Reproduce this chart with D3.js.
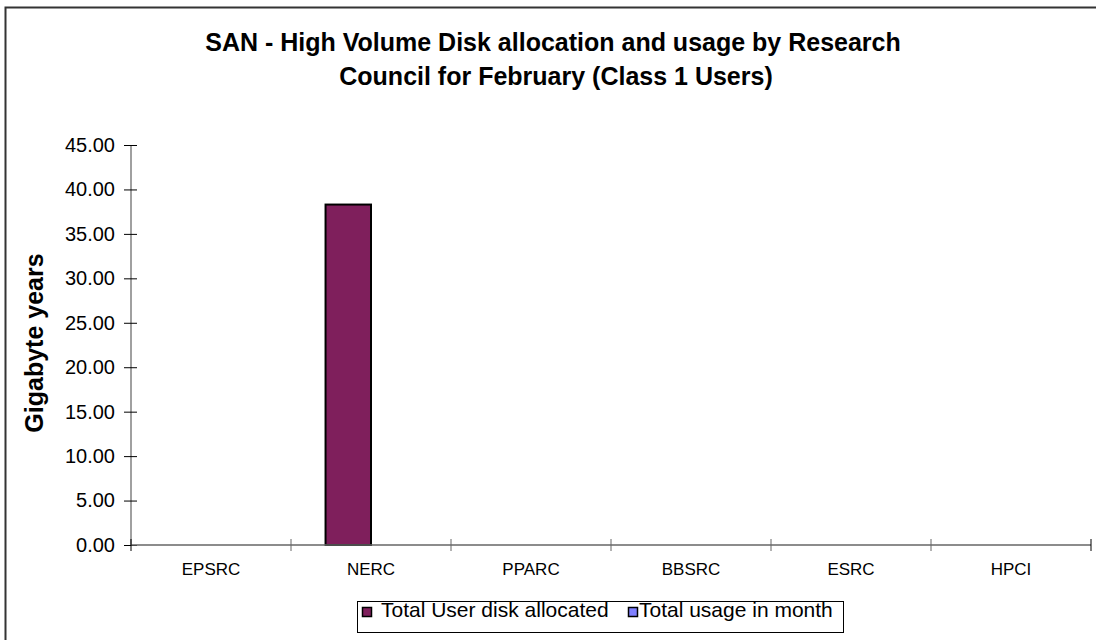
<!DOCTYPE html>
<html><head><meta charset="utf-8">
<script src="https://cdn.jsdelivr.net/npm/d3@7"></script>
<style>body{margin:0;background:#fff}svg{display:block}text{font-family:"Liberation Sans",Arial,sans-serif}</style>
</head><body><svg id="c" width="1096" height="640"></svg>
<script>
const categories = ["EPSRC","NERC","PPARC","BBSRC","ESRC","HPCI"];
const seriesNames = ["Total User disk allocated","Total usage in month"];
const allocated = [0, 38.3, 0, 0, 0, 0];
const usage = [0, 0, 0, 0, 0, 0];
const yTicks = [0,5,10,15,20,25,30,35,40,45];
const colors = ["#7f1f5c","#8080ff"];

(function(){
const svg = d3.select("#c");
svg.append("rect").attr("x",5.5).attr("y",7.5).attr("width",1100).attr("height",700)
  .attr("fill","#fff").attr("stroke","#333").attr("stroke-width",2);

const pL=131, pR=1091, pT=145, pB=545;
const x = d3.scaleBand().domain(categories).range([pL,pR]);
const y = d3.scaleLinear().domain([0,45]).range([pB,pT]);
const inner = d3.scaleBand().domain([0,1]).range([0,x.bandwidth()]).paddingInner(0).paddingOuter(0.76);

// title
const t = svg.append("text").attr("text-anchor","middle").attr("font-weight","bold").attr("font-size",25);
t.append("tspan").attr("x",553).attr("y",51).text("SAN - High Volume Disk allocation and usage by Research");
t.append("tspan").attr("x",556).attr("y",85).text("Council for February (Class 1 Users)");

// y label
svg.append("text").attr("transform","translate(43,343) rotate(-90)").attr("text-anchor","middle")
  .attr("font-weight","bold").attr("font-size",25).text("Gigabyte years");

// bars
const data = [allocated, usage];
data.forEach((arr,si)=>{
  svg.append("g").selectAll("rect").data(arr.map((v,i)=>({c:categories[i],v}))).join("rect")
    .filter(d=>d.v>0)
    .attr("x",d=>x(d.c)+inner(si)).attr("width",inner.bandwidth())
    .attr("y",d=>y(d.v)).attr("height",d=>y(0)-y(d.v))
    .attr("fill",colors[si]).attr("stroke","#000").attr("stroke-width",2);
});

// y axis
const ya = svg.append("g").attr("transform",`translate(${pL},0)`)
  .call(d3.axisLeft(y).tickValues(yTicks).tickFormat(d3.format(".2f")).tickSize(7).tickPadding(9));
ya.select(".domain").attr("stroke","#808080").attr("stroke-width",1.5).attr("d",`M0,${pT}V${pB}`);
ya.selectAll(".tick line").attr("stroke","#000").attr("x2",6).attr("x1",-7);
ya.selectAll(".tick text").attr("font-size",20).attr("fill","#000").attr("font-family","Liberation Sans, Arial, sans-serif");

// x axis
const xa = svg.append("g").attr("transform",`translate(0,${pB})`)
  .call(d3.axisBottom(x).tickSize(0).tickPadding(18));
xa.select(".domain").attr("stroke","#666").attr("stroke-width",1.5).attr("d",`M${pL},0H${pR}`);
xa.selectAll(".tick text").attr("font-size",17).attr("fill","#000").attr("dy",null).attr("y",30)
  .attr("font-family","Liberation Sans, Arial, sans-serif");
const bounds = categories.map(c=>x(c)).concat([pR]);
svg.append("g").selectAll("line").data(bounds).join("line")
  .attr("x1",d=>d).attr("x2",d=>d).attr("y1",pB-6).attr("y2",pB+6)
  .attr("stroke",(d,i)=> i===0||i===bounds.length-1 ? "#000" : "#666");

// legend
const lg = svg.append("g");
lg.append("rect").attr("x",357.5).attr("y",601.5).attr("width",486).attr("height",31).attr("fill","#fff").attr("stroke","#000");
const items = [{n:seriesNames[0],c:colors[0],x:362,tx:381},{n:seriesNames[1],c:colors[1],x:628,tx:639}];
items.forEach(it=>{
  lg.append("rect").attr("x",it.x+0.5).attr("y",607.5).attr("width",9).attr("height",9).attr("fill",it.c).attr("stroke","#000").attr("stroke-width",1.5);
  lg.append("text").attr("x",it.tx).attr("y",617).attr("font-size",21).text(it.n);
});
})();
</script></body></html>
